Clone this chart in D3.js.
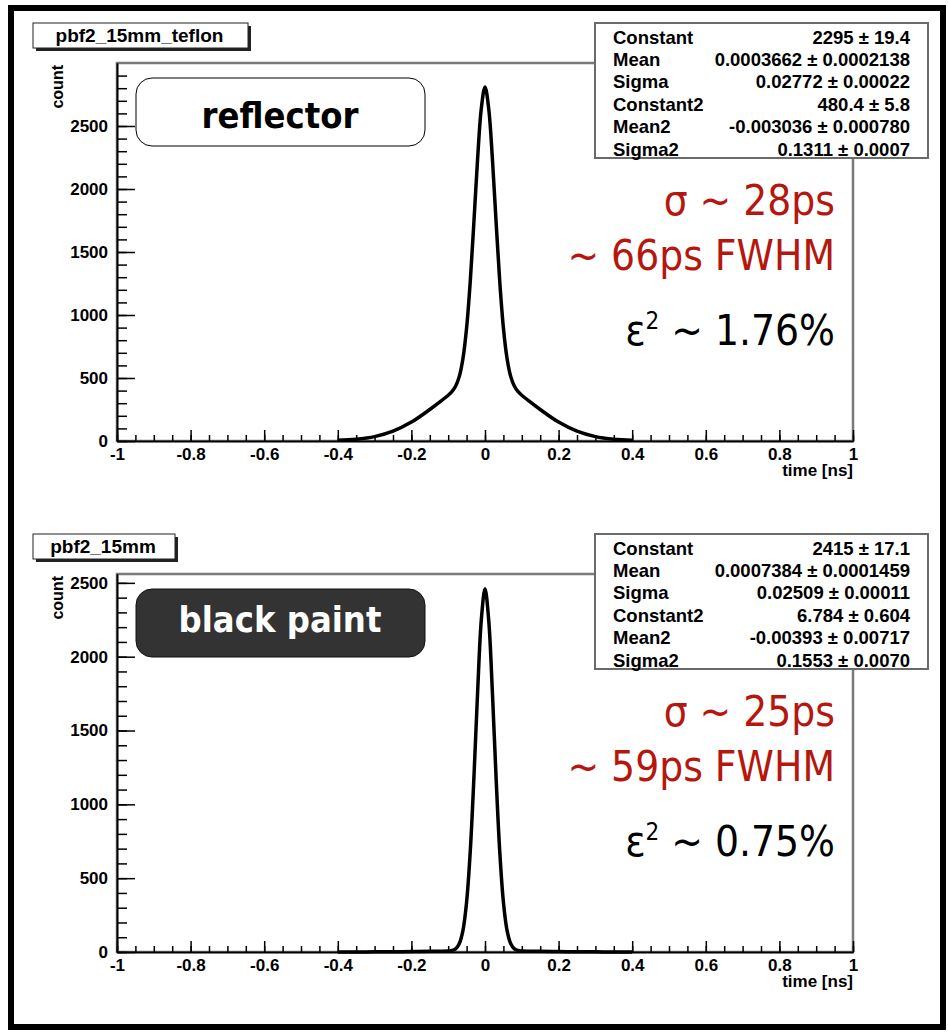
<!DOCTYPE html>
<html>
<head>
<meta charset="utf-8">
<script src="https://cdn.jsdelivr.net/npm/d3@7"></script>
<style>
  body { margin: 0; background: #fff; }
  svg { display: block; }
  .tick text { font-family: "Liberation Sans", Arial, sans-serif; font-weight: bold; font-size: 17px; fill: #000; }
  .axis path, .axis line { stroke: #000; stroke-width: 1.5px; }
</style>
</head>
<body>
<svg id="chart" width="948" height="1032"></svg>
<script>
// ---- data ----
var timeMajor = [-1, -0.8, -0.6, -0.4, -0.2, 0, 0.2, 0.4, 0.6, 0.8, 1]
var timeMinor = d3.range(-1, 1.0001, 0.05).map(function(d) { return +d.toFixed(2) })
var countMajor = [0, 500, 1000, 1500, 2000, 2500]

var fitTimes = [-0.4, -0.35, -0.3, -0.25, -0.2, -0.15, -0.12, -0.1, -0.09, -0.08, -0.07, -0.06, -0.05, -0.04, -0.03, -0.02, -0.01,
                0, 0.01, 0.02, 0.03, 0.04, 0.05, 0.06, 0.07, 0.08, 0.09, 0.1, 0.12, 0.15, 0.2, 0.25, 0.3, 0.35, 0.4]
var reflectorCounts = [5, 14, 35, 78, 150, 250, 316, 363, 391, 434, 511, 653, 898, 1269, 1746, 2244, 2640,
                       2810, 2640, 2244, 1746, 1269, 898, 653, 511, 434, 391, 363, 316, 250, 150, 78, 35, 14, 5]
var blackPaintCounts = [0.3, 0.5, 1.1, 1.9, 3, 4.3, 5, 6.7, 9.9, 21, 56, 145, 338, 684, 1188, 1764, 2250,
                        2460, 2250, 1764, 1188, 684, 338, 145, 56, 21, 9.9, 6.7, 5, 4.3, 3, 1.9, 1.1, 0.5, 0.3]

var statNames = ['Constant', 'Mean', 'Sigma', 'Constant2', 'Mean2', 'Sigma2']
var reflectorStats = ['2295 \u00b1 19.4', '0.0003662 \u00b1 0.0002138', '0.02772 \u00b1 0.00022',
                      '480.4 \u00b1 5.8', '-0.003036 \u00b1 0.000780', '0.1311 \u00b1 0.0007']
var blackPaintStats = ['2415 \u00b1 17.1', '0.0007384 \u00b1 0.0001459', '0.02509 \u00b1 0.00011',
                       '6.784 \u00b1 0.604', '-0.00393 \u00b1 0.00717', '0.1553 \u00b1 0.0070']

var panels = [
  {title: 'pbf2_15mm_teflon', label: 'reflector', dark: false, countMax: 3000,
   counts: reflectorCounts, stats: reflectorStats,
   sigma: '\u03c3 ~ 28ps', fwhm: '~ 66ps FWHM', eps: ' ~ 1.76%'},
  {title: 'pbf2_15mm', label: 'black paint', dark: true, countMax: 2560,
   counts: blackPaintCounts, stats: blackPaintStats,
   sigma: '\u03c3 ~ 25ps', fwhm: '~ 59ps FWHM', eps: ' ~ 0.75%'}
]

// ---- layout ----
var svg = d3.select('#chart')
var W = 948, H = 1032
var plot = {left: 117, right: 853, top: 63, bottom: 441}
var panelStep = 511
var helv = '"Liberation Sans", Arial, sans-serif'
var tahoma = '"DejaVu Sans Condensed", "DejaVu Sans", sans-serif'

// outer black frame
svg.append('rect')
  .attr('x', 11).attr('y', 8).attr('width', W - 16).attr('height', H - 13)
  .attr('fill', 'none').attr('stroke', '#000').attr('stroke-width', 6)

var x = d3.scaleLinear().domain([-1, 1]).range([plot.left, plot.right])
var plain = function(d) { return String(d) }  // ROOT style: hyphen minus, no thousands sep

panels.forEach(function(p, i) {
  var g = svg.append('g').attr('transform', 'translate(0,' + (i * panelStep) + ')')
  var y = d3.scaleLinear().domain([0, p.countMax]).range([plot.bottom, plot.top])

  // plot frame
  g.append('rect')
    .attr('x', plot.left).attr('y', plot.top)
    .attr('width', plot.right - plot.left).attr('height', plot.bottom - plot.top)
    .attr('fill', 'none').attr('stroke', '#7a7a7a').attr('stroke-width', 2.5)

  // x axis
  g.append('g').attr('class', 'axis')
    .attr('transform', 'translate(0,' + plot.bottom + ')')
    .call(d3.axisBottom(x).tickValues(timeMinor).tickSize(-6).tickSizeOuter(0).tickFormat(''))
  g.append('g').attr('class', 'axis')
    .attr('transform', 'translate(0,' + plot.bottom + ')')
    .call(d3.axisBottom(x).tickValues(timeMajor).tickSize(-11).tickSizeOuter(0).tickPadding(6)
      .tickFormat(plain))
    .selectAll('.tick text').attr('dy', '0.78em')

  // y axis
  var countMinor = d3.range(0, p.countMax, 100)
  g.append('g').attr('class', 'axis')
    .attr('transform', 'translate(' + plot.left + ',0)')
    .call(d3.axisLeft(y).tickValues(countMinor).tickSize(-10).tickSizeOuter(0).tickFormat(''))
  g.append('g').attr('class', 'axis')
    .attr('transform', 'translate(' + plot.left + ',0)')
    .call(d3.axisLeft(y).tickValues(countMajor).tickSize(-18).tickSizeOuter(0).tickPadding(9)
      .tickFormat(plain))

  // axis titles
  g.append('text')
    .attr('x', plot.right).attr('y', 476)
    .attr('text-anchor', 'end')
    .style('font', 'bold 17px ' + helv)
    .text('time [ns]')
  g.append('text')
    .attr('transform', 'translate(63,' + (plot.top + 2) + ') rotate(-90)')
    .attr('text-anchor', 'end')
    .style('font', 'bold 16px ' + helv)
    .text('count')

  // fit curve
  var line = d3.line()
    .curve(d3.curveCatmullRom)
    .x(function(d, k) { return x(fitTimes[k]) })
    .y(function(d) { return y(d) })
  g.append('path')
    .datum(p.counts)
    .attr('d', line)
    .attr('fill', 'none').attr('stroke', '#000')
    .attr('stroke-width', 3.5).attr('stroke-linejoin', 'round')

  // title box with shadow
  var tw = p.title.length > 10 ? 215 : 142
  g.append('rect').attr('x', 36).attr('y', 26).attr('width', tw).attr('height', 25).attr('fill', '#222')
  g.append('rect').attr('x', 33).attr('y', 23).attr('width', tw).attr('height', 25)
    .attr('fill', '#fff').attr('stroke', '#222').attr('stroke-width', 1)
  g.append('text')
    .attr('x', 33 + tw / 2 - 1).attr('y', 42)
    .attr('text-anchor', 'middle')
    .style('font', 'bold 19px ' + helv)
    .text(p.title)

  // stats box
  var sb = {x: 595, y: 23, w: 333, h: 135}
  g.append('rect').attr('x', sb.x).attr('y', sb.y).attr('width', sb.w).attr('height', sb.h)
    .attr('fill', '#fff').attr('stroke', '#6a6a6a').attr('stroke-width', 2)
  statNames.forEach(function(name, k) {
    var ry = sb.y + 14 + k * 22.4
    g.append('text').attr('x', sb.x + 18).attr('y', ry).attr('dy', '0.36em')
      .style('font', 'bold 18.5px ' + helv).text(name)
    g.append('text').attr('x', sb.x + 315).attr('y', ry).attr('dy', '0.36em')
      .attr('text-anchor', 'end')
      .style('font', 'bold 18.5px ' + helv).text(p.stats[k])
  })

  // rounded label
  g.append('rect')
    .attr('x', 136).attr('y', 78).attr('width', 289).attr('height', 68)
    .attr('rx', 16).attr('ry', 16)
    .attr('fill', p.dark ? '#333' : '#fff')
    .attr('stroke', p.dark ? '#111' : '#000').attr('stroke-width', 1)
  g.append('text')
    .attr('x', 280).attr('y', p.dark ? 121 : 128)
    .attr('text-anchor', 'middle')
    .attr('fill', p.dark ? '#fff' : '#000')
    .style('font', 'bold 36px ' + tahoma)
    .style('font-stretch', 'normal')
    .text(p.label)

  // resolution annotations
  var red = '#b5170f'
  g.append('text').attr('x', 835).attr('y', 215).attr('text-anchor', 'end')
    .attr('fill', red).style('font', '42px ' + tahoma).text(p.sigma)
  g.append('text').attr('x', 835).attr('y', 270).attr('text-anchor', 'end')
    .attr('fill', red).style('font', '42px ' + tahoma).text(p.fwhm)
  var eps = g.append('text').attr('x', 835).attr('y', 345).attr('text-anchor', 'end')
    .attr('fill', '#000').style('font', '42px ' + tahoma)
  eps.append('tspan').text('\u03b5')
  eps.append('tspan').attr('dy', -16).style('font-size', '24px').text('2')
  eps.append('tspan').attr('dy', 16).text(p.eps)
})
</script>
</body>
</html>
